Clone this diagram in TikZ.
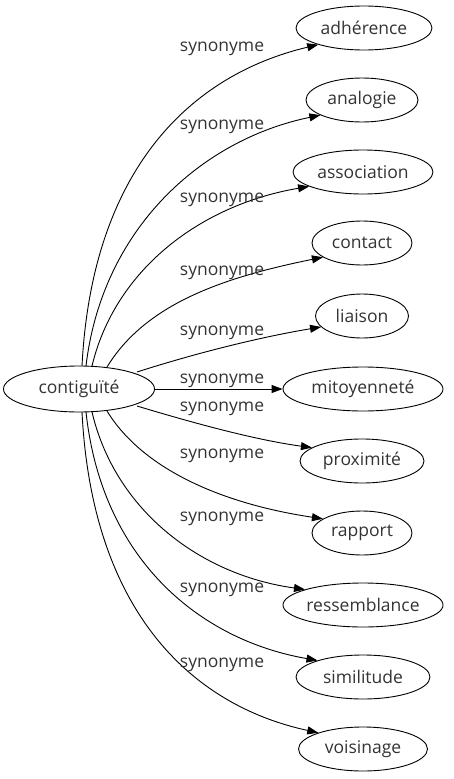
\documentclass[tikz,border=0pt]{standalone}
\usepackage{fontspec}
\setmainfont{Open Sans}
\usetikzlibrary{shapes.geometric,arrows.meta}
\definecolor{txt}{HTML}{333333}
\begin{document}
\begin{tikzpicture}[x=1pt,y=-1pt,
  every node/.style={font=\fontsize{17.5}{20}\selectfont,text=txt},
  word/.style={draw,ellipse,line width=0.9pt,minimum height=44,inner sep=0pt},
  lab/.style={inner sep=0pt,yshift=-3pt},
  edge/.style={line width=0.9pt,-{Triangle[length=11,width=8]}}]
\useasboundingbox (0,0) rectangle (453,779);
\node[word,minimum width=151,minimum height=46] (src) at (79,389) {contiguïté};
\node[word,minimum width=136] (adh) at (364,28) {adhérence};
\node[word,minimum width=112] (ana) at (362,100) {analogie};
\node[word,minimum width=140] (ass) at (363,172) {association};
\node[word,minimum width=100] (con) at (362,243) {contact};
\node[word,minimum width=93] (lia) at (362,316) {liaison};
\node[word,minimum width=160] (mit) at (363,389) {mitoyenneté};
\node[word,minimum width=124] (pro) at (362,461) {proximité};
\node[word,minimum width=100] (rap) at (362,533) {rapport};
\node[word,minimum width=160] (res) at (363,605) {ressemblance};
\node[word,minimum width=134] (sim) at (363,677) {similitude};
\node[word,minimum width=129] (voi) at (363,749) {voisinage};
\coordinate (s1) at (82,366); \coordinate (s2) at (86,366); \coordinate (s3) at (92,366);
\coordinate (s4) at (107,367); \coordinate (s5) at (137,372);
\coordinate (s7) at (137,406); \coordinate (s8) at (107,411);
\coordinate (s9) at (92,412); \coordinate (s10) at (86,412); \coordinate (s11) at (82,412);
\draw[edge] (s1) .. controls (92,170) and (190,75) .. (adh.200);
\draw[edge] (s2) .. controls (102,230) and (200,140) .. (ana.200);
\draw[edge] (s3) .. controls (115,270) and (200,205) .. (ass.195);
\draw[edge] (s4) .. controls (145,305) and (220,278) .. (con.200);
\draw[edge] (s5) .. controls (190,355) and (255,338) .. (lia.195);
\draw[edge] (src.east) -- (mit.west);
\draw[edge] (s7) .. controls (190,422) and (255,440) .. (pro.165);
\draw[edge] (s8) .. controls (145,473) and (230,505) .. (rap.160);
\draw[edge] (s9) .. controls (115,510) and (200,575) .. (res.165);
\draw[edge] (s10) .. controls (102,560) and (200,640) .. (sim.160);
\draw[edge] (s11) .. controls (92,610) and (190,705) .. (voi.160);
\node[lab] (l1) at (222,46) {synonyme};
\node[lab] (l2) at (222,124) {synonyme};
\node[lab] (l3) at (222,197) {synonyme};
\node[lab] (l4) at (222,270) {synonyme};
\node[lab] (l5) at (222,330) {synonyme};
\node[lab] (l6) at (222,378) {synonyme};
\node[lab] (l7) at (222,406) {synonyme};
\node[lab] (l8) at (222,453) {synonyme};
\node[lab] (l9) at (222,516) {synonyme};
\node[lab] (l10) at (222,587) {synonyme};
\node[lab] (l11) at (222,662) {synonyme};
\end{tikzpicture}
\end{document}
